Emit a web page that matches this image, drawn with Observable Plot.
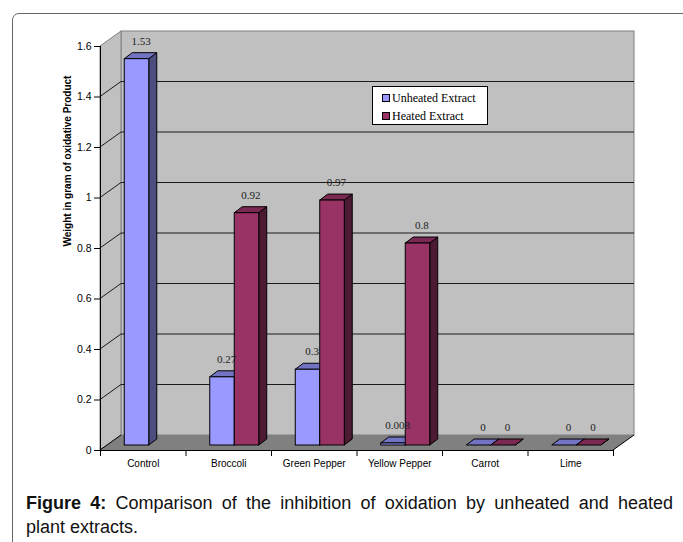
<!DOCTYPE html>
<html>
<head>
<meta charset="utf-8">
<script src="https://cdn.jsdelivr.net/npm/d3@7"></script>
<script src="https://cdn.jsdelivr.net/npm/@observablehq/plot@0.6"></script>
<style>
  html, body { margin: 0; padding: 0; background: #fff; width: 683px; height: 542px; overflow: hidden; }
  #frame { position: absolute; left: 12px; top: 13px; width: 720px; height: 600px; border: 1.5px solid #666; border-radius: 7px; box-sizing: border-box; }
  #chart { position: absolute; left: 0; top: 0; }
  #legend { position: absolute; left: 372px; top: 86px; width: 116px; height: 39px; box-sizing: border-box; border: 1px solid #000; background: #fff; font-family: "Liberation Serif", "Times New Roman", serif; font-size: 12px; color: #000; }
  #legend .item { position: absolute; left: 9px; white-space: nowrap; line-height: 14px; }
  #legend .sw { display: inline-block; width: 8px; height: 8px; border: 1px solid #000; box-sizing: border-box; margin-right: 2px; vertical-align: -0px; }
  #caption { position: absolute; left: 26px; top: 491px; width: 647px; font-family: "Liberation Sans", Arial, sans-serif; font-size: 18px; line-height: 24px; color: #111; }
  #caption .l1 { text-align: justify; text-align-last: justify; }
</style>
</head>
<body>
<div id="frame"></div>
<div id="chart"></div>
<div id="legend"></div>
<div id="caption"></div>
<script>
// ---- data ----
const categories = ["Control", "Broccoli", "Green Pepper", "Yellow Pepper", "Carrot", "Lime"];
const unheated = [1.53, 0.27, 0.3, 0.008, 0, 0];
const heated = [null, 0.92, 0.97, 0.8, 0, 0];
const seriesNames = ["Unheated Extract", "Heated Extract"];
const yTicks = [0, 0.2, 0.4, 0.6, 0.8, 1, 1.2, 1.4, 1.6];
const yTickLabels = ["0", "0.2", "0.4", "0.6", "0.8", "1", "1.2", "1.4", "1.6"];
const yLabel = "Weight in gram of oxidative Product";
const captionBold = "Figure 4:";
const captionLine1 = " Comparison of the inhibition of oxidation by unheated and heated";
const captionLine2 = "plant extracts.";

// ---- styling / geometry ----
const frontColors = ["#9999ff", "#993366"];
const sideColors = ["#4d4d80", "#4d1a33"];
const topColors = ["#7373c4", "#7a2952"];
const BW = 0.2865;           // bar width in band units
const GX = 6, GY = -5;       // bar row offset into depth (px)
const DX = 8, DY = -6;       // bar depth (px)
const WX = 21, WY = -15;     // wall depth (px)

const bars = [];
categories.forEach((c, i) => {
  if (unheated[i] != null) bars.push({cat: c, i, series: 0, name: seriesNames[0], value: unheated[i]});
  if (heated[i] != null) bars.push({cat: c, i, series: 1, name: seriesNames[1], value: heated[i]});
});
const bx1 = d => d.i + 0.5 + (d.series - 1) * BW;
const bx2 = d => bx1(d) + BW;

function walls(index, scales) {
  const x = scales.x, y = scales.y;
  const x0 = x(0), x6 = x(6), y0 = y(0), yt = y(1.6);
  const g = d3.create("svg:g");
  g.append("rect").attr("x", x0 + WX).attr("y", yt + WY).attr("width", x6 - x0).attr("height", y0 - yt)
    .attr("fill", "#c0c0c0").attr("stroke", "#808080");
  g.append("path").attr("d", `M${x0},${y0}L${x0},${yt}L${x0 + WX},${yt + WY}L${x0 + WX},${y0 + WY}Z`)
    .attr("fill", "#c0c0c0").attr("stroke", "#808080");
  g.append("path").attr("d", `M${x0},${y0}L${x6},${y0}L${x6 + WX},${y0 + WY}L${x0 + WX},${y0 + WY}Z`)
    .attr("fill", "#808080").attr("stroke", "none");
  g.append("path").attr("d", `M${x0},${y0}L${x0 + WX},${y0 + WY}M${x6},${y0}L${x6 + WX},${y0 + WY}`)
    .attr("fill", "none").attr("stroke", "#000");
  for (const t of yTicks) {
    if (t > 0 && t < 1.6) {
      g.append("path").attr("d", `M${x0},${y(t)}L${x0 + WX},${y(t) + WY}L${x6 + WX},${y(t) + WY}`)
        .attr("fill", "none").attr("stroke", "#1a1a1a");
    }
  }
  return g.node();
}

function faces(index, scales) {
  const x = scales.x, y = scales.y;
  const g = d3.create("svg:g").attr("stroke", "#000").attr("stroke-linejoin", "round");
  for (const d of bars) {
    const xa = x(bx1(d)) + GX, xb = x(bx2(d)) + GX;
    const yb = y(0) + GY, yt = y(d.value) + GY;
    g.append("path").attr("d", `M${xb},${yb}L${xb + DX},${yb + DY}L${xb + DX},${yt + DY}L${xb},${yt}Z`)
      .attr("fill", sideColors[d.series]);
    g.append("path").attr("d", `M${xa},${yt}L${xb},${yt}L${xb + DX},${yt + DY}L${xa + DX},${yt + DY}Z`)
      .attr("fill", topColors[d.series]);
  }
  return g.node();
}

const chart = Plot.plot({
  width: 683,
  height: 480,
  marginLeft: 100,
  marginRight: 70,
  marginTop: 46,
  marginBottom: 30,
  x: {domain: [0, 6]},
  y: {domain: [0, 1.6]},
  color: {domain: seriesNames, range: frontColors},
  style: {background: "transparent", fontFamily: "'Liberation Sans', Arial, sans-serif", fontSize: "10px", color: "#000", overflow: "visible"},
  marks: [
    walls,
    faces,
    Plot.rect(bars, {x1: bx1, x2: bx2, y1: 0, y2: "value", dx: GX, dy: GY, fill: "name", stroke: "#000", strokeWidth: 1}),
    Plot.ruleY([0], {stroke: "#000"}),
    Plot.ruleX([0], {stroke: "#000"}),
    Plot.axisY(yTicks, {tickSize: 6, tickPadding: 3, tickFormat: d => yTickLabels[yTicks.indexOf(d)], fontSize: 10.5, label: null, stroke: "#000"}),
    Plot.axisX(d3.range(categories.length + 1), {tickSize: 6, tickFormat: () => "", label: null, stroke: "#000"}),
    Plot.axisX(categories.map((c, i) => i + 0.5), {tickSize: 0, tickPadding: 9, tickFormat: d => categories[Math.floor(d)], label: null, fontSize: 10}),
    Plot.text([yLabel], {frameAnchor: "left", rotate: -90, dx: -33, dy: -2, fontWeight: "bold", fontSize: 10, fill: "#000"}),
    Plot.text(bars, {x: d => bx1(d) + BW / 2, y: "value", text: d => String(d.value), dx: GX + DX / 2, dy: GY + DY - 12, fontFamily: "'Liberation Serif', 'Times New Roman', serif", fontSize: 11, fill: "#222"})
  ]
});
document.getElementById("chart").appendChild(chart);

// legend
const legend = document.getElementById("legend");
seriesNames.forEach((n, k) => {
  const it = document.createElement("div");
  it.className = "item";
  it.style.top = (4 + k * 18) + "px";
  const sw = document.createElement("span");
  sw.className = "sw";
  sw.style.background = frontColors[k];
  it.appendChild(sw);
  it.appendChild(document.createTextNode(n));
  legend.appendChild(it);
});

// caption
const cap = document.getElementById("caption");
const l1 = document.createElement("div");
l1.className = "l1";
const b = document.createElement("b");
b.textContent = captionBold;
l1.appendChild(b);
l1.appendChild(document.createTextNode(captionLine1));
const l2 = document.createElement("div");
l2.textContent = captionLine2;
cap.appendChild(l1);
cap.appendChild(l2);
</script>
</body>
</html>
